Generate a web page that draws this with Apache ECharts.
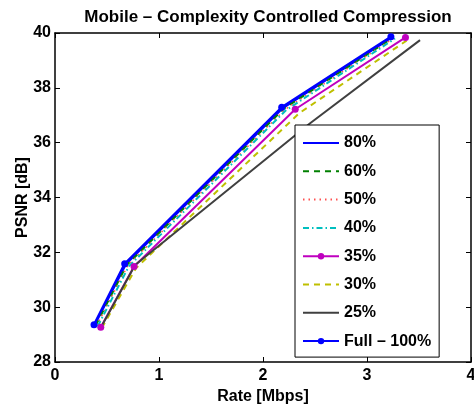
<!DOCTYPE html>
<html>
<head>
<meta charset="utf-8">
<script src="https://cdn.jsdelivr.net/npm/echarts@6/dist/echarts.min.js"></script>
<style>
  html, body { margin: 0; padding: 0; background: #fff; }
  #chart { width: 474px; height: 407px; }
</style>
</head>
<body>
<div id="chart"></div>
<script>
// rate [Mbps] / PSNR [dB] per complexity level
var full100 = [[0.375, 29.36], [0.67, 31.58], [2.18, 37.29], [3.23, 39.86]];
var c80 = [[0.38, 29.35], [0.68, 31.57], [2.19, 37.27], [3.24, 39.85]];
var c60 = [[0.39, 29.33], [0.69, 31.54], [2.20, 37.24], [3.25, 39.83]];
var c50 = [[0.40, 29.32], [0.70, 31.52], [2.21, 37.21], [3.26, 39.82]];
var c40 = [[0.41, 29.30], [0.71, 31.49], [2.22, 37.18], [3.27, 39.80]];
var c35 = [[0.44, 29.27], [0.76, 31.48], [2.31, 37.22], [3.37, 39.84]];
var c30 = [[0.45, 29.24], [0.78, 31.43], [2.35, 37.08], [3.38, 39.72]];
var c25 = [[0.44, 29.25], [0.77, 31.54], [2.45, 36.70], [3.51, 39.74]];
var xTicks = [0, 1, 2, 3, 4];
var yTicks = [28, 30, 32, 34, 36, 38, 40];

var font = "'Liberation Sans', Arial, Helvetica, sans-serif";
var myChart = echarts.init(document.getElementById('chart'));

function line(name, data, color, type, width, marker) {
  return {
    name: name,
    type: 'line',
    data: data,
    symbol: marker ? 'circle' : 'none',
    symbolSize: 7,
    itemStyle: { color: color },
    lineStyle: { color: color, width: width, type: type },
    animation: false
  };
}

// legend entry; hide the dot for plain lines
function entry(name, marker) {
  return marker ? { name: name } : { name: name, itemStyle: { opacity: 0 } };
}

var axisBase = {
  axisLine: { show: true, onZero: false, lineStyle: { color: '#000', width: 1.5 } },
  axisTick: { show: true, inside: true, length: 5, lineStyle: { color: '#000', width: 1 } },
  splitLine: { show: false }
};

var option = {
  backgroundColor: '#fff',
  title: {
    text: 'Mobile \u2013 Complexity Controlled Compression',
    left: 263,
    textAlign: 'center',
    top: 4,
    textStyle: { fontFamily: font, fontSize: 17, fontWeight: 'bold', color: '#000' }
  },
  grid: { left: 55, right: 3, top: 33, bottom: 45, outerBoundsMode: 'none', containLabel: false },
  legend: {
    orient: 'vertical',
    left: 295,
    top: 125,
    padding: [10, 8, 8, 7],
    itemWidth: 36,
    itemHeight: 8,
    itemGap: 12.3,
    borderColor: '#000',
    borderWidth: 1,
    backgroundColor: '#fff',
    textStyle: { fontFamily: font, fontSize: 16, fontWeight: 'bold', color: '#000' },
    data: [
      entry('80%', false), entry('60%', false), entry('50%', false), entry('40%', false),
      entry('35%', true), entry('30%', false), entry('25%', false), entry('Full \u2013 100%', true)
    ]
  },
  xAxis: [
    Object.assign({
      type: 'value', min: 0, max: 4, interval: 1,
      name: 'Rate [Mbps]', nameLocation: 'middle', nameGap: 27,
      nameTextStyle: { fontFamily: font, fontSize: 16, fontWeight: 'bold', color: '#000' },
      axisLabel: { margin: 6, fontFamily: font, fontSize: 16, fontWeight: 'bold', color: '#000',
        formatter: function (v) { return xTicks.indexOf(v) >= 0 ? String(v) : ''; } }
    }, axisBase),
    Object.assign({
      type: 'value', min: 0, max: 4, interval: 1, position: 'top',
      axisLabel: { show: false }
    }, axisBase)
  ],
  yAxis: [
    Object.assign({
      type: 'value', min: 28, max: 40, interval: 2,
      name: 'PSNR [dB]', nameLocation: 'middle', nameGap: 24, nameMoveOverlap: false,
      nameTextStyle: { fontFamily: font, fontSize: 16, fontWeight: 'bold', color: '#000' },
      axisLabel: { margin: 4, fontFamily: font, fontSize: 16, fontWeight: 'bold', color: '#000',
        formatter: function (v) { return yTicks.indexOf(v) >= 0 ? String(v) : ''; } }
    }, axisBase),
    Object.assign({
      type: 'value', min: 28, max: 40, interval: 2, position: 'right',
      axisLabel: { show: false }
    }, axisBase)
  ],
  series: [
    line('80%', c80, '#0000ff', 'solid', 2.5, false),
    line('60%', c60, '#008000', [6, 5], 2, false),
    line('50%', c50, '#ff5050', [1.5, 4], 1.5, false),
    line('40%', c40, '#00bfbf', [6, 3, 1.5, 3], 2, false),
    line('35%', c35, '#bf00bf', 'solid', 2, true),
    line('30%', c30, '#bfbf00', [6, 5], 2, false),
    line('25%', c25, '#404040', 'solid', 2, false),
    line('Full \u2013 100%', full100, '#0000ff', 'solid', 2.5, true)
  ]
};

myChart.setOption(option);
</script>
</body>
</html>
